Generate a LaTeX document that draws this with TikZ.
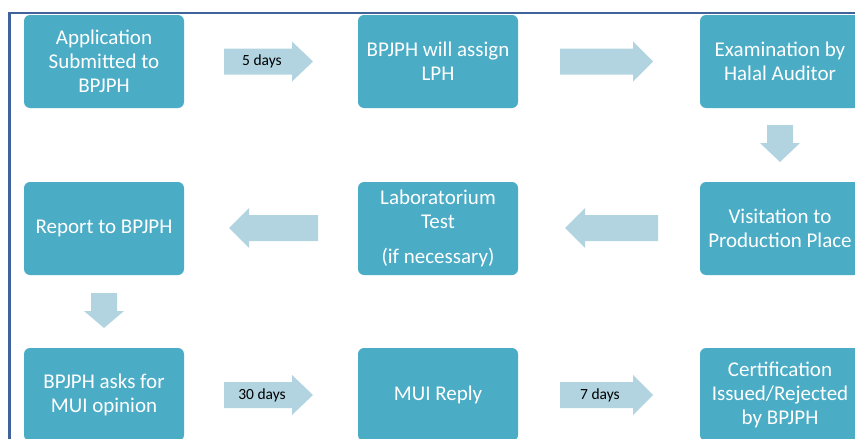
\documentclass[tikz,border=0pt]{standalone}
\usepackage{fontspec}
\setmainfont{Carlito}
\definecolor{boxfill}{HTML}{4BACC6}
\definecolor{arrowfill}{HTML}{B1D4E0}
\definecolor{framecol}{HTML}{41639C}
\begin{document}
\begin{tikzpicture}[x=1pt,y=-1pt,
	stepbox/.style={rectangle, rounded corners=6pt, fill=boxfill, text=white,
		minimum width=160pt, minimum height=93pt, inner sep=0pt, align=center,
		font=\fontsize{21}{24}\selectfont},
	daylabel/.style={inner sep=0pt, text=black, font=\fontsize{15.5}{18}\selectfont}]
	\clip (0,0) rectangle (855,439);
	\draw [framecol, line width=2.5pt] (9.7,460) -- (9.7,13) -- (880,13);
	% first row
	\node [stepbox] (apply) at (104,61.5) {Application\\Submitted to\\BPJPH};
	\node [stepbox] (assign) at (438,61.5) {BPJPH will assign\\LPH};
	\node [stepbox] (exam) at (780,61.5) {Examination by\\Halal Auditor};
	% second row
	\node [stepbox] (report) at (104,228.5) {Report to BPJPH};
	\node [stepbox] (lab) at (438,228.5) {Laboratorium\\Test\\[11pt](if necessary)};
	\node [stepbox] (visit) at (780,228.5) {Visitation to\\Production Place};
	% third row
	\node [stepbox] (ask) at (104,394.5) {BPJPH asks for\\MUI opinion};
	\node [stepbox] (reply) at (438,394.5) {MUI Reply};
	\node [stepbox] (issue) at (780,394.5) {Certification\\Issued/Rejected\\by BPJPH};
	% block arrows
	\fill [arrowfill] (224,48.5) -- (292,48.5) -- (292,41.5) -- (313,61.5) -- (292,81.5) -- (292,74.5) -- (224,74.5) -- cycle;
	\node [daylabel] (five) at (262,61.5) {5 days};
	\fill [arrowfill] (560,48.5) -- (633,48.5) -- (633,41.5) -- (653,61.5) -- (633,81.5) -- (633,74.5) -- (560,74.5) -- cycle;
	\fill [arrowfill] (767,125) -- (793,125) -- (793,143) -- (800,143) -- (780,162) -- (760,143) -- (767,143) -- cycle;
	\fill [arrowfill] (658,215) -- (585,215) -- (585,208) -- (565,228) -- (585,248) -- (585,241) -- (658,241) -- cycle;
	\fill [arrowfill] (318,215) -- (249,215) -- (249,208) -- (229,228) -- (249,248) -- (249,241) -- (318,241) -- cycle;
	\fill [arrowfill] (91,293) -- (117,293) -- (117,311) -- (124,311) -- (104,328) -- (84,311) -- (91,311) -- cycle;
	\fill [arrowfill] (224,382) -- (292,382) -- (292,375) -- (313,395) -- (292,415) -- (292,408) -- (224,408) -- cycle;
	\node [daylabel] (thirty) at (262,395) {30 days};
	\fill [arrowfill] (560,382) -- (633,382) -- (633,375) -- (653,395) -- (633,415) -- (633,408) -- (560,408) -- cycle;
	\node [daylabel] (seven) at (600,395) {7 days};
\end{tikzpicture}
\end{document}
